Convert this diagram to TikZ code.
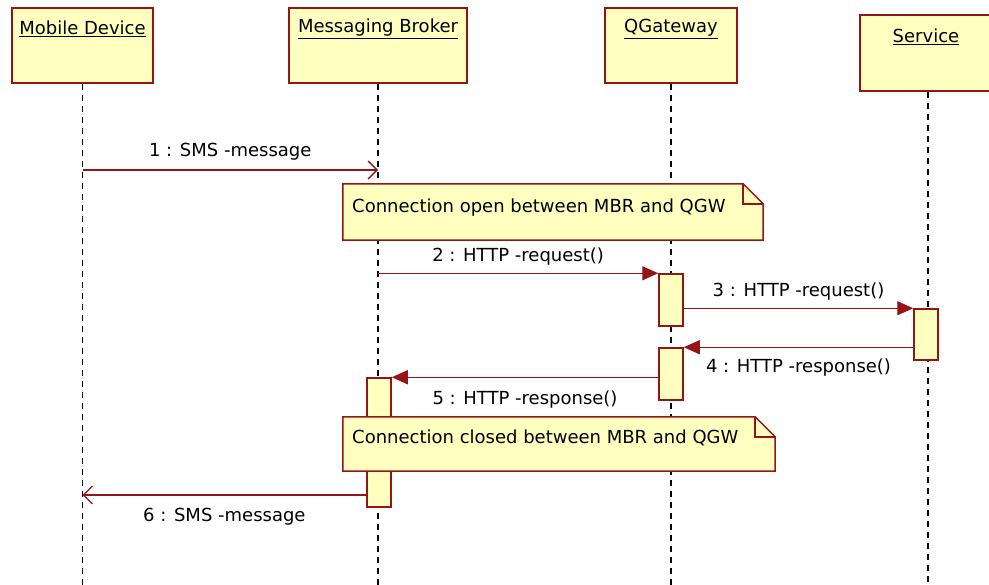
\documentclass[tikz,border=0pt]{standalone}
\usepackage{fontspec}
\setmainfont{DejaVu Sans}
\usetikzlibrary{arrows.meta}
\definecolor{umlred}{RGB}{150,20,20}
\definecolor{umlfill}{RGB}{255,255,192}

\begin{document}
\begin{tikzpicture}[x=1pt,y=-1pt,
  font=\fontsize{18}{21}\selectfont,
  objbox/.style={draw=umlred, fill=umlfill, line width=1.8pt, inner sep=0pt},
  actbox/.style={draw=umlred, fill=umlfill, line width=1.5pt, inner sep=0pt, minimum width=24pt},
  lifeline/.style={draw=black, line width=1.4pt, dash pattern=on 6pt off 5pt},
  msgline/.style={draw=umlred, line width=1.4pt},
  sync/.style={msgline, -{Triangle[length=16pt,width=14pt]}},
  async/.style={msgline, -{Straight Barb[length=9pt,width=18pt]}},
  notebody/.style={draw=umlred, fill=umlfill, line width=1.5pt, line join=miter},
  notearea/.style={inner sep=0pt},
  lbl/.style={inner sep=0pt, text=black},
]
\useasboundingbox (0,0) rectangle (989,585);
\clip (0,0) rectangle (989,585);

% object heads
\node[objbox, minimum width=141pt, minimum height=75pt] (md) at (82.5,45.5) {};
\node[objbox, minimum width=178pt, minimum height=75pt] (mb) at (378,45.5) {};
\node[objbox, minimum width=132pt, minimum height=75pt] (qg) at (671,45.5) {};
\node[objbox, minimum width=136pt, minimum height=76pt] (sv) at (928,53) {};

% lifelines
\coordinate (mdEnd) at (md.south |- 0,590);
\coordinate (mbEnd) at (mb.south |- 0,590);
\coordinate (qgEnd) at (qg.south |- 0,590);
\coordinate (svEnd) at (sv.south |- 0,590);
\draw[lifeline] (md.south) -- (mdEnd);
\draw[lifeline] (mb.south) -- (mbEnd);
\draw[lifeline] (qg.south) -- (qgEnd);
\draw[lifeline] (sv.south) -- (svEnd);

% object names
\node[lbl] (mdT) at (82.5,29) {\underline{Mobile Device}};
\node[lbl] (mbT) at (378,29) {\underline{Messaging Broker}};
\node[lbl] (qgT) at (671,29) {\underline{QGateway}};
\node[lbl] (svT) at (926,37) {\underline{Service}};

% activations
\node[actbox, minimum height=52pt] (actQ1) at (671,300) {};
\node[actbox, minimum height=51pt] (actS) at (926,334.5) {};
\node[actbox, minimum height=52pt] (actQ2) at (671,374) {};
\node[actbox, minimum height=129pt] (actM) at (379,442.5) {};

% messages
\coordinate (m1a) at (md.south |- 0,170);
\coordinate (m1b) at (mb.south |- 0,170);
\draw[async] (m1a) -- node[lbl, midway, yshift=18pt] (l1) {1 : SMS -message} (m1b);

\coordinate (m2a) at (mb.south |- actQ1.north);
\draw[sync] (m2a) -- node[lbl, midway, yshift=17pt] (l2) {2 : HTTP -request()} (actQ1.north west);

\coordinate (m3a) at (actQ1.east |- actS.north);
\draw[sync] (m3a) -- node[lbl, midway, yshift=17pt] (l3) {3 : HTTP -request()} (actS.north west);

\coordinate (m4a) at (actS.west |- actQ2.north);
\draw[sync] (m4a) -- node[lbl, midway, yshift=-20pt] (l4) {4 : HTTP -response()} (actQ2.north east);

\coordinate (m5a) at (actQ2.west |- actM.north);
\draw[sync] (m5a) -- node[lbl, midway, yshift=-22pt] (l5) {5 : HTTP -response()} (actM.north east);

\coordinate (m6a) at (actM.west |- 0,495);
\coordinate (m6b) at (md.south |- 0,495);
\draw[async] (m6a) -- node[lbl, midway, yshift=-22pt] (l6) {6 : SMS -message} (m6b);

% notes
\node[notearea, minimum width=420pt, minimum height=56pt] (n1) at (553,212) {};
\draw[notebody] (n1.north west) -- ([xshift=-20pt]n1.north east) -- ([yshift=-20pt]n1.north east)
  -- (n1.south east) -- (n1.south west) -- cycle;
\draw[notebody, fill=none] ([xshift=-20pt]n1.north east) -- ([xshift=-20pt,yshift=-20pt]n1.north east)
  -- ([yshift=-20pt]n1.north east);
\node[lbl, anchor=west] (n1t) at (352,208) {Connection open between MBR and QGW};

\node[notearea, minimum width=432pt, minimum height=54pt] (n2) at (559,444) {};
\draw[notebody] (n2.north west) -- ([xshift=-20pt]n2.north east) -- ([yshift=-20pt]n2.north east)
  -- (n2.south east) -- (n2.south west) -- cycle;
\draw[notebody, fill=none] ([xshift=-20pt]n2.north east) -- ([xshift=-20pt,yshift=-20pt]n2.north east)
  -- ([yshift=-20pt]n2.north east);
\node[lbl, anchor=west] (n2t) at (352,438) {Connection closed between MBR and QGW};
\end{tikzpicture}
\end{document}
